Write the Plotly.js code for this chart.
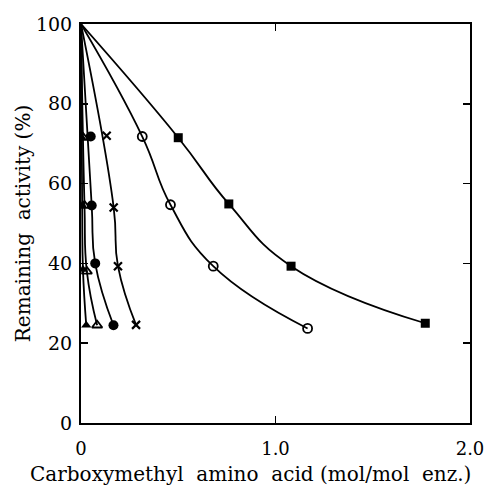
<!DOCTYPE html>
<html>
<head>
<meta charset="utf-8">
<script src="https://cdn.plot.ly/plotly-3.0.1.min.js"></script>
<style>html,body{margin:0;padding:0;background:#fff;}#plot{width:485px;height:488px;}</style>
</head>
<body>
<div id="plot"></div>
<script>
// Remaining activity (%) vs carboxymethyl amino acid (mol/mol enz.)
const startX = 0;
const startY = 100;

const filledSquareX = [0.50, 0.76, 1.08, 1.77];
const filledSquareY = [71.5, 54.9, 39.3, 25.0];

const openCircleX = [0.315, 0.46, 0.68, 1.165];
const openCircleY = [71.8, 54.7, 39.3, 23.7];

const crossX = [0.132, 0.168, 0.19, 0.283];
const crossY = [72.0, 54.0, 39.3, 24.6];

const filledCircleX = [0.05, 0.055, 0.073, 0.167];
const filledCircleY = [71.8, 54.5, 40.0, 24.5];

const openTriangleX = [0.012, 0.018, 0.03, 0.083];
const openTriangleY = [71.5, 54.5, 38.0, 24.5];

const filledTriangleX = [0.004, 0.006, 0.01, 0.027];
const filledTriangleY = [71.5, 54.5, 38.5, 24.5];

const xTickVals = [0, 1, 2];
const xTickText = ['0', '1.0', '2.0'];
const yTickVals = [0, 20, 40, 60, 80, 100];
const yTickText = ['0', '20', '40', '60', '80', '100'];

const xTitle = 'Carboxymethyl\u00a0\u00a0amino\u00a0\u00a0acid\u00a0(mol/mol\u00a0\u00a0enz.)';
const yTitle = 'Remaining\u00a0\u00a0activity\u00a0(%)';

// skipFirst: the hand-drawn curve passes beside the first measured point
const series = [
  {x: filledSquareX, y: filledSquareY, symbol: 'square', size: 9, lw: 0, skipFirst: false},
  {x: openCircleX, y: openCircleY, symbol: 'circle-open', size: 9, lw: 1.8, skipFirst: false},
  {x: crossX, y: crossY, symbol: 'x-thin-open', size: 8, lw: 2.2, skipFirst: true},
  {x: filledCircleX, y: filledCircleY, symbol: 'circle', size: 10, lw: 0, skipFirst: true},
  {x: openTriangleX, y: openTriangleY, symbol: 'triangle-up-open', size: 9, lw: 1.8, skipFirst: true},
  {x: filledTriangleX, y: filledTriangleY, symbol: 'triangle-up', size: 9, lw: 0, skipFirst: true}
];

const traces = [];
series.forEach(s => {
  const k = s.skipFirst ? 1 : 0;
  traces.push({
    x: [startX].concat(s.x.slice(k)), y: [startY].concat(s.y.slice(k)),
    mode: 'lines', type: 'scatter', hoverinfo: 'skip',
    line: {color: '#000', width: 1.8, shape: 'spline', smoothing: 1.3},
    showlegend: false
  });
  traces.push({
    x: s.x, y: s.y, mode: 'markers', type: 'scatter',
    marker: {symbol: s.symbol, size: s.size, color: '#000',
             line: {color: '#000', width: s.lw}},
    showlegend: false
  });
});

const fontFam = '"DejaVu Serif", "Liberation Serif", serif';
const layout = {
  width: 485, height: 488,
  margin: {l: 80.5, r: 14.5, t: 23.5, b: 65},
  paper_bgcolor: '#fff', plot_bgcolor: '#fff',
  font: {family: fontFam, color: '#000', size: 19},
  xaxis: {
    range: [0, 2], tickvals: xTickVals, ticktext: xTickText,
    ticks: 'inside', ticklen: 7, tickwidth: 1.5, tickcolor: '#000',
    showline: true, linewidth: 2, linecolor: '#000', mirror: 'ticks',
    showgrid: false, zeroline: false, ticklabelstandoff: 8,
    ticklabeloverflow: 'allow',
    tickfont: {family: fontFam, size: 18}
  },
  yaxis: {
    range: [0, 100], tickvals: yTickVals, ticktext: yTickText,
    ticks: 'inside', ticklen: 7, tickwidth: 1.5, tickcolor: '#000',
    showline: true, linewidth: 2, linecolor: '#000', mirror: 'ticks',
    showgrid: false, zeroline: false, ticklabelstandoff: 3,
    tickfont: {family: fontFam, size: 19},
    title: {text: yTitle, font: {family: fontFam, size: 20}, standoff: 0}
  },
  annotations: [{
    text: xTitle, xref: 'paper', yref: 'paper', x: 0.4346, y: 0,
    xanchor: 'center', yanchor: 'middle', yshift: -51, showarrow: false,
    font: {family: fontFam, size: 20, color: '#000'}
  }]
};

Plotly.newPlot('plot', traces, layout, {staticPlot: true, displayModeBar: false});
</script>
</body>
</html>
